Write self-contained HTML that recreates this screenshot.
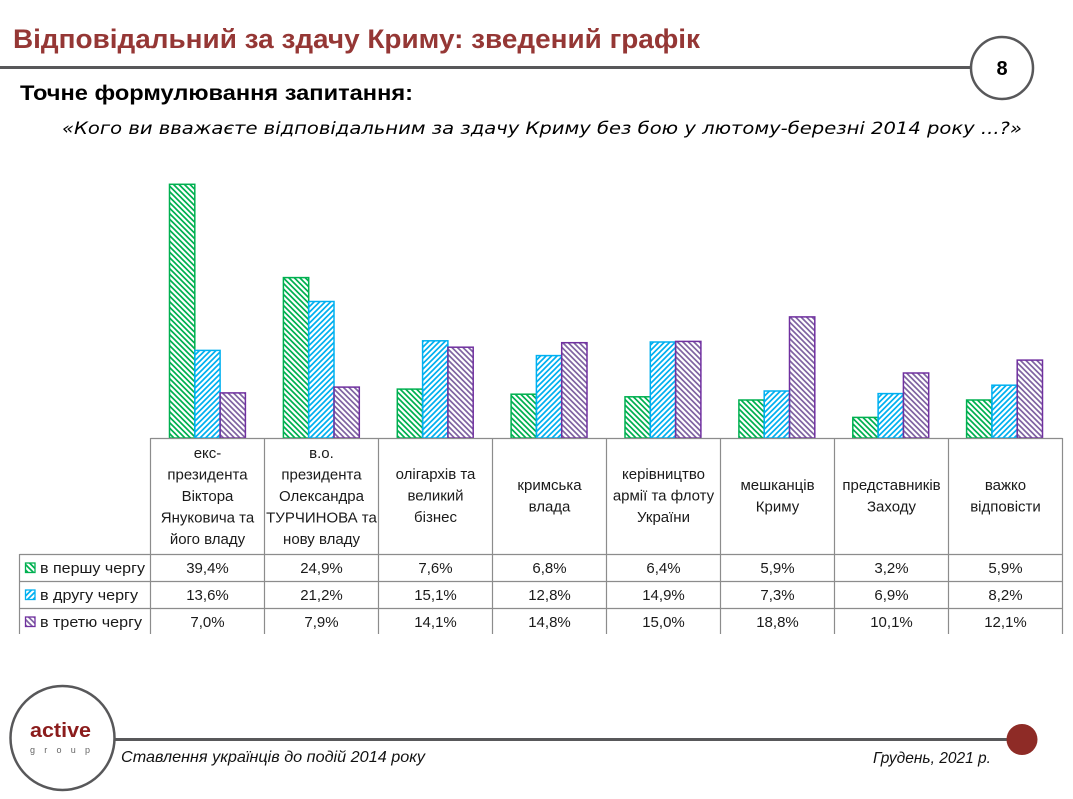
<!DOCTYPE html>
<html><head><meta charset="utf-8">
<style>
html,body{margin:0;padding:0;background:#fff;}
svg{display:block;}
</style></head>
<body>
<svg width="1073" height="799" viewBox="0 0 1073 799" xmlns="http://www.w3.org/2000/svg">
<defs>
<pattern id="pg" patternUnits="userSpaceOnUse" width="5.5" height="5.5">
<path d="M-1,-1 L6.5,6.5 M-1,4.5 L1,6.5 M4.5,-1 L6.5,1" stroke="#00B050" stroke-width="1.7"/>
</pattern>
<pattern id="pb" patternUnits="userSpaceOnUse" width="5.5" height="5.5">
<path d="M-1,6.5 L6.5,-1 M-1,1 L1,-1 M4.5,6.5 L6.5,4.5" stroke="#00B0F0" stroke-width="1.7"/>
</pattern>
<pattern id="pp" patternUnits="userSpaceOnUse" width="5.5" height="5.5">
<path d="M-1,-1 L6.5,6.5 M-1,4.5 L1,6.5 M4.5,-1 L6.5,1" stroke="#8064A2" stroke-width="1.7"/>
</pattern>
</defs>

<!-- Title -->
<text x="13" y="48" font-family="Liberation Sans, sans-serif" font-weight="bold" font-size="27" fill="#953735" textLength="687" lengthAdjust="spacingAndGlyphs">Відповідальний за здачу Криму: зведений графік</text>
<line x1="0" y1="67.5" x2="972" y2="67.5" stroke="#58585A" stroke-width="3"/>
<circle cx="1002" cy="68" r="31" fill="#fff" stroke="#58585A" stroke-width="2.5"/>
<text x="1002" y="75" text-anchor="middle" font-family="Liberation Sans, sans-serif" font-weight="bold" font-size="20" fill="#000">8</text>

<text x="20" y="100" font-family="Liberation Sans, sans-serif" font-weight="bold" font-size="21" fill="#000" textLength="393" lengthAdjust="spacingAndGlyphs">Точне формулювання запитання:</text>
<text x="62" y="134" font-family="DejaVu Sans, sans-serif" font-style="italic" font-size="17" fill="#000" textLength="960" lengthAdjust="spacingAndGlyphs">«Кого ви вважаєте відповідальним за здачу Криму без бою у лютому-березні 2014 року ...?»</text>

<!-- Bars -->
<g stroke-width="1.5">
<g stroke="#00B050" fill="url(#pg)">
<rect x="169.5" y="184.3" width="25.3" height="253.7"/>
<rect x="283.4" y="277.6" width="25.3" height="160.4"/>
<rect x="397.3" y="389.1" width="25.3" height="48.9"/>
<rect x="511.1" y="394.2" width="25.3" height="43.8"/>
<rect x="625.0" y="396.8" width="25.3" height="41.2"/>
<rect x="738.9" y="400.0" width="25.3" height="38.0"/>
<rect x="852.8" y="417.4" width="25.3" height="20.6"/>
<rect x="966.6" y="400.0" width="25.3" height="38.0"/>
</g>
<g stroke="#00B0F0" fill="url(#pb)">
<rect x="194.8" y="350.4" width="25.3" height="87.6"/>
<rect x="308.7" y="301.5" width="25.3" height="136.5"/>
<rect x="422.6" y="340.8" width="25.3" height="97.2"/>
<rect x="536.4" y="355.6" width="25.3" height="82.4"/>
<rect x="650.3" y="342.0" width="25.3" height="96.0"/>
<rect x="764.2" y="391.0" width="25.3" height="47.0"/>
<rect x="878.1" y="393.6" width="25.3" height="44.4"/>
<rect x="991.9" y="385.2" width="25.3" height="52.8"/>
</g>
<g stroke="#7030A0" fill="url(#pp)">
<rect x="220.1" y="392.9" width="25.3" height="45.1"/>
<rect x="334.0" y="387.1" width="25.3" height="50.9"/>
<rect x="447.9" y="347.2" width="25.3" height="90.8"/>
<rect x="561.7" y="342.7" width="25.3" height="95.3"/>
<rect x="675.6" y="341.4" width="25.3" height="96.6"/>
<rect x="789.5" y="316.9" width="25.3" height="121.1"/>
<rect x="903.4" y="373.0" width="25.3" height="65.0"/>
<rect x="1017.2" y="360.1" width="25.3" height="77.9"/>
</g>
</g>

<!-- Table grid -->
<g stroke="#8C8C8C" stroke-width="1.2" fill="none">
<line x1="150.5" y1="438.5" x2="1062.5" y2="438.5"/>
<line x1="19.5" y1="554.5" x2="1062.5" y2="554.5"/>
<line x1="19.5" y1="581.5" x2="1062.5" y2="581.5"/>
<line x1="19.5" y1="608.5" x2="1062.5" y2="608.5"/>
<line x1="19.5" y1="554" x2="19.5" y2="634"/>
<line x1="150.5" y1="438" x2="150.5" y2="634"/>
<line x1="264.5" y1="438" x2="264.5" y2="634"/>
<line x1="378.5" y1="438" x2="378.5" y2="634"/>
<line x1="492.5" y1="438" x2="492.5" y2="634"/>
<line x1="606.5" y1="438" x2="606.5" y2="634"/>
<line x1="720.5" y1="438" x2="720.5" y2="634"/>
<line x1="834.5" y1="438" x2="834.5" y2="634"/>
<line x1="948.5" y1="438" x2="948.5" y2="634"/>
<line x1="1062.5" y1="438" x2="1062.5" y2="634"/>
</g>

<!-- Category headers -->
<g font-family="Liberation Sans, sans-serif" font-size="15" fill="#1a1a1a" text-anchor="middle">
<text x="207.5" y="458">екс-</text>
<text x="207.5" y="479.5">президента</text>
<text x="207.5" y="501">Віктора</text>
<text x="207.5" y="522.5">Януковича та</text>
<text x="207.5" y="544">його владу</text>

<text x="321.5" y="458">в.о.</text>
<text x="321.5" y="479.5">президента</text>
<text x="321.5" y="501">Олександра</text>
<text x="321.5" y="522.5">ТУРЧИНОВА та</text>
<text x="321.5" y="544">нову владу</text>

<text x="435.5" y="479">олігархів та</text>
<text x="435.5" y="500.5">великий</text>
<text x="435.5" y="522">бізнес</text>

<text x="549.5" y="490">кримська</text>
<text x="549.5" y="511.5">влада</text>

<text x="663.5" y="479">керівництво</text>
<text x="663.5" y="500.5">армії та флоту</text>
<text x="663.5" y="522">України</text>

<text x="777.5" y="490">мешканців</text>
<text x="777.5" y="511.5">Криму</text>

<text x="891.5" y="490">представників</text>
<text x="891.5" y="511.5">Заходу</text>

<text x="1005.5" y="490">важко</text>
<text x="1005.5" y="511.5">відповісти</text>

<!-- values -->
<text x="207.5" y="573">39,4%</text>
<text x="321.5" y="573">24,9%</text>
<text x="435.5" y="573">7,6%</text>
<text x="549.5" y="573">6,8%</text>
<text x="663.5" y="573">6,4%</text>
<text x="777.5" y="573">5,9%</text>
<text x="891.5" y="573">3,2%</text>
<text x="1005.5" y="573">5,9%</text>

<text x="207.5" y="600">13,6%</text>
<text x="321.5" y="600">21,2%</text>
<text x="435.5" y="600">15,1%</text>
<text x="549.5" y="600">12,8%</text>
<text x="663.5" y="600">14,9%</text>
<text x="777.5" y="600">7,3%</text>
<text x="891.5" y="600">6,9%</text>
<text x="1005.5" y="600">8,2%</text>

<text x="207.5" y="627">7,0%</text>
<text x="321.5" y="627">7,9%</text>
<text x="435.5" y="627">14,1%</text>
<text x="549.5" y="627">14,8%</text>
<text x="663.5" y="627">15,0%</text>
<text x="777.5" y="627">18,8%</text>
<text x="891.5" y="627">10,1%</text>
<text x="1005.5" y="627">12,1%</text>
</g>

<!-- Legend -->
<rect x="25.5" y="563" width="9.5" height="9.5" fill="url(#pg)" stroke="#00B050" stroke-width="1.3"/>
<rect x="25.5" y="590" width="9.5" height="9.5" fill="url(#pb)" stroke="#00B0F0" stroke-width="1.3"/>
<rect x="25.5" y="617" width="9.5" height="9.5" fill="url(#pp)" stroke="#7030A0" stroke-width="1.3"/>
<g font-family="Liberation Sans, sans-serif" font-size="15" fill="#1a1a1a">
<text x="40" y="573" textLength="105" lengthAdjust="spacingAndGlyphs">в першу чергу</text>
<text x="40" y="600" textLength="98" lengthAdjust="spacingAndGlyphs">в другу чергу</text>
<text x="40" y="627" textLength="102" lengthAdjust="spacingAndGlyphs">в третю чергу</text>
</g>

<!-- Footer -->
<line x1="114" y1="739.5" x2="1010" y2="739.5" stroke="#58585A" stroke-width="3"/>
<circle cx="62.5" cy="738" r="52" fill="#fff" stroke="#58585A" stroke-width="2.5"/>
<text x="30" y="737" font-family="Liberation Sans, sans-serif" font-weight="bold" font-size="20" fill="#8B1C1C" textLength="61" lengthAdjust="spacingAndGlyphs">active</text>
<text x="30" y="753" font-family="Liberation Sans, sans-serif" font-size="9" fill="#666" textLength="60" lengthAdjust="spacing">group</text>
<circle cx="1022" cy="739.5" r="15.5" fill="#8E2B26"/>
<text x="121" y="762" font-family="Liberation Sans, sans-serif" font-style="italic" font-size="16" fill="#111" textLength="304" lengthAdjust="spacingAndGlyphs">Ставлення українців до подій 2014 року</text>
<text x="873" y="763" font-family="Liberation Sans, sans-serif" font-style="italic" font-size="16" fill="#111" textLength="118" lengthAdjust="spacingAndGlyphs">Грудень, 2021 р.</text>
</svg>
</body></html>
